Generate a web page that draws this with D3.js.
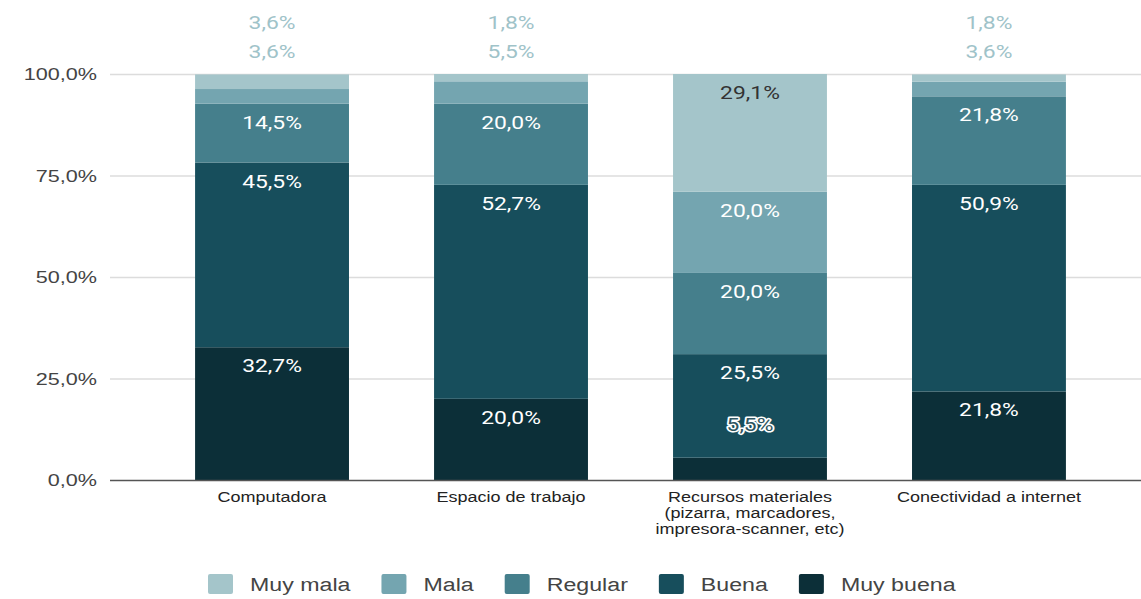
<!DOCTYPE html>
<html>
<head>
<meta charset="utf-8">
<script src="https://cdn.jsdelivr.net/npm/d3@7"></script>
<style>
  body { margin: 0; background: #fff; }
  svg { display: block; }
</style>
</head>
<body>
<div id="chart"></div>
<script>
// data
var categories = [
  ["Computadora"],
  ["Espacio de trabajo"],
  ["Recursos materiales", "(pizarra, marcadores,", "impresora-scanner, etc)"],
  ["Conectividad a internet"]
];
var seriesNames = ["Muy buena", "Buena", "Regular", "Mala", "Muy mala"];
var muyBuena = [32.7, 20.0, 5.5, 21.8];
var buena    = [45.5, 52.7, 25.5, 50.9];
var regular  = [14.5, 20.0, 20.0, 21.8];
var mala     = [3.6, 5.5, 20.0, 3.6];
var muyMala  = [3.6, 1.8, 29.1, 1.8];
var yTicks = [0, 25, 50, 75, 100];
var legendOrder = ["Muy mala", "Mala", "Regular", "Buena", "Muy buena"];

var colors = {
  "Muy buena": "#0c2f38",
  "Buena": "#174e5c",
  "Regular": "#457f8c",
  "Mala": "#74a5b0",
  "Muy mala": "#a4c5ca"
};

var W = 1141, H = 599;
var SX = 1.27; // horizontal stretch of the source picture
var xLeft = 110, xRight = 1141, yTop = 74, yBottom = 480;

var fmt = function(v) { return d3.format(".1f")(v).replace(".", ",") + "%"; };

var table = categories.map(function(c, i) {
  return {
    key: i,
    "Muy buena": muyBuena[i], "Buena": buena[i], "Regular": regular[i],
    "Mala": mala[i], "Muy mala": muyMala[i]
  };
});

var stack = d3.stack().keys(seriesNames)(table);

var x = d3.scaleBand()
  .domain(d3.range(categories.length))
  .range([xLeft, 1151])
  .paddingInner(0.356)
  .paddingOuter(0.356);

var y = d3.scaleLinear().domain([0, 100]).range([yBottom, yTop]);

var svg = d3.select("#chart").append("svg")
  .attr("width", W).attr("height", H);

// stretched text helper
function sText(g, tx, ty, str, sx) {
  return g.append("text")
    .attr("transform", "translate(" + tx + "," + ty + ") scale(" + (sx || SX) + ",1)")
    .text(str);
}

// grid
svg.append("g").selectAll("line")
  .data(yTicks.filter(function(t) { return t > 0; }))
  .enter().append("line")
  .attr("x1", xLeft).attr("x2", xRight)
  .attr("y1", function(d) { return y(d) + 0.5; })
  .attr("y2", function(d) { return y(d) + 0.5; })
  .attr("stroke", "#dcdcdc").attr("stroke-width", 1.5);

// y tick labels
var yAx = svg.append("g")
  .attr("font-family", "'Liberation Sans', Arial, sans-serif")
  .attr("font-size", 17).attr("fill", "#444").attr("text-anchor", "end");
yTicks.forEach(function(t) {
  sText(yAx, 97, y(t) + 6, d3.format(".1f")(t).replace(".", ",") + "%");
});

// bars
var layers = svg.append("g").selectAll("g")
  .data(stack).enter().append("g")
  .attr("fill", function(d) { return colors[d.key]; });

layers.selectAll("rect")
  .data(function(d) { return d; })
  .enter().append("rect")
  .attr("x", function(d) { return x(d.data.key); })
  .attr("y", function(d) { return y(Math.min(d[1], 100)); })
  .attr("width", x.bandwidth())
  .attr("height", function(d) { return y(d[0]) - y(Math.min(d[1], 100)); });

// baseline
svg.append("line")
  .attr("x1", xLeft).attr("x2", xRight)
  .attr("y1", yBottom + 0.5).attr("y2", yBottom + 0.5)
  .attr("stroke", "#555").attr("stroke-width", 1.5);

// data labels
var lab = svg.append("g")
  .attr("font-family", "Roboto, sans-serif")
  .attr("font-size", 18).attr("text-anchor", "middle");

stack.forEach(function(layer, si) {
  layer.forEach(function(d, ci) {
    var v = d[1] - d[0];
    var cx = x(ci) + x.bandwidth() / 2;
    var top = y(Math.min(d[1], 100));
    var t;
    if (v < 6 && si >= 3) {
      // small top segments: stacked above the bar
      var off = si === 3 ? -22 : -51;
      t = sText(lab, cx, y(100) + off + 6, fmt(v));
      t.attr("fill", "#9fc3c9");
    } else if (v < 6) {
      t = sText(lab, cx, top - 33 + 6, fmt(v));
      t.attr("fill", "#2f5560").attr("stroke", "#fff").attr("stroke-width", 3)
        .attr("paint-order", "stroke").attr("stroke-linejoin", "round");
    } else {
      t = sText(lab, cx, top + 19 + 6, fmt(v));
      t.attr("fill", layer.key === "Muy mala" ? "#333" : "#fff");
    }
  });
});

// x labels
var xl = svg.append("g")
  .attr("font-family", "'Liberation Sans', Arial, sans-serif")
  .attr("font-size", 15).attr("fill", "#222").attr("text-anchor", "middle");
categories.forEach(function(lines, ci) {
  var cx = x(ci) + x.bandwidth() / 2;
  lines.forEach(function(s, li) {
    sText(xl, cx, 502 + li * 16, s, 1.2);
  });
});

// legend
var lg = svg.append("g")
  .attr("font-family", "'Liberation Sans', Arial, sans-serif")
  .attr("font-size", 19).attr("fill", "#444");
var lx = 208;
legendOrder.forEach(function(name) {
  lg.append("rect")
    .attr("x", lx).attr("y", 574).attr("width", 25).attr("height", 20)
    .attr("rx", 2).attr("fill", colors[name]);
  var t = sText(lg, lx + 42, 591, name, 1.22);
  var w = t.node().getComputedTextLength() * 1.22;
  lx += 42 + w + 31;
});
</script>
</body>
</html>
